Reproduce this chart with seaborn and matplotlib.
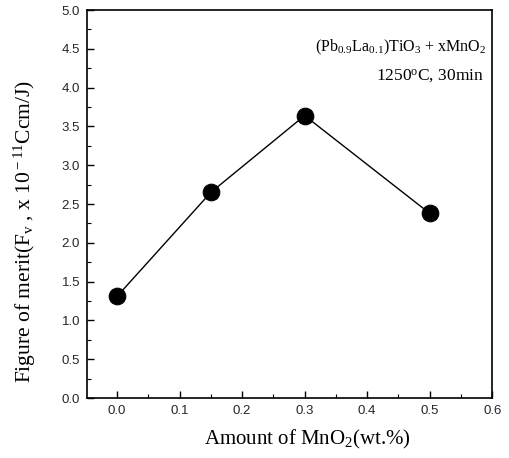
import matplotlib
matplotlib.use("Agg")
import matplotlib.pyplot as plt
import seaborn as sns
import pandas as pd
from matplotlib.ticker import MultipleLocator, FormatStrFormatter

mno2 = [0.0, 0.15, 0.3, 0.5]
merit = [1.31, 2.65, 3.64, 2.38]
xticks = [0.0, 0.1, 0.2, 0.3, 0.4, 0.5, 0.6]
yticks = [0.0, 0.5, 1.0, 1.5, 2.0, 2.5, 3.0, 3.5, 4.0, 4.5, 5.0]

sns.set_theme(style="white")
plt.rcParams['font.family'] = ['Liberation Serif', 'DejaVu Serif']
plt.rcParams['mathtext.fontset'] = 'custom'
plt.rcParams['mathtext.rm'] = 'Liberation Serif'
plt.rcParams['mathtext.it'] = 'Liberation Serif:italic'

df = pd.DataFrame({"x": mno2, "y": merit})
fig = plt.figure(figsize=(5.09, 4.58), dpi=100)
ax = fig.add_axes([0.171, 0.131, 0.796, 0.847])
sns.lineplot(data=df, x="x", y="y", ax=ax, color="black", linewidth=1.0,
             marker="o", markersize=12, markerfacecolor="black", markeredgecolor="black")

ax.set_xlim(-0.048, 0.6)
ax.set_ylim(0, 5.0)
ax.set_xticks(xticks)
ax.set_yticks(yticks)
ax.xaxis.set_minor_locator(MultipleLocator(0.05))
ax.yaxis.set_minor_locator(MultipleLocator(0.25))
ax.xaxis.set_major_formatter(FormatStrFormatter('%.1f'))
ax.yaxis.set_major_formatter(FormatStrFormatter('%.1f'))
for lab in ax.get_xticklabels() + ax.get_yticklabels():
    lab.set_fontfamily(['Liberation Sans', 'DejaVu Sans'])
    lab.set_fontsize(9.5)
ax.tick_params(which='major', direction='in', length=5, width=1, bottom=True, left=True,
               top=False, right=False, color='black', pad=5)
ax.tick_params(which='minor', direction='in', length=3, width=0.8, bottom=True, left=True,
               top=False, right=False, color='black')
for s in ax.spines.values():
    s.set_color('black')
    s.set_linewidth(1.2)

ax.set_xlabel("Amount of MnO$_2$(wt.%)", fontsize=15, color='black')
ax.set_ylabel("Figure of merit(F$_{\\rm v}$ , x 10$^{\\rm -11}$Ccm/J)", fontsize=15.5, color='black')
ax.xaxis.set_label_coords(0.545, -0.078)
ax.yaxis.set_label_coords(-0.12, 0.43)

ax.text(0.985, 0.905, "(Pb$_{0.9}$La$_{0.1}$)TiO$_3$ + xMnO$_2$", transform=ax.transAxes,
        ha='right', va='center', fontsize=11.5, color='black')
ax.text(0.98, 0.83, "1250$^{\\rm o}$C, 30min", transform=ax.transAxes,
        ha='right', va='center', fontsize=12.5, color='black')

fig.savefig("out.png", dpi=100)
